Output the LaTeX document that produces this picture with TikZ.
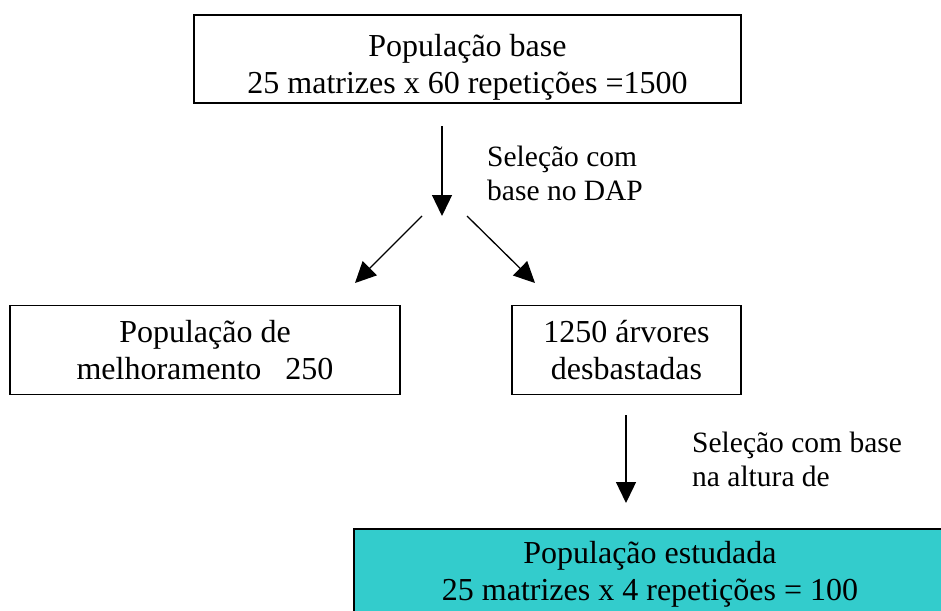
\documentclass[tikz,border=0pt]{standalone}
\usepackage{fontspec}
\setmainfont{Liberation Serif}
\usetikzlibrary{
	arrows.meta
}
\definecolor{estudada}{HTML}{33CCCC}

\begin{document}
\begin{tikzpicture}[
	x = 1pt, y = -1pt,
	font = \fontsize{32}{36.8}\selectfont,
	box/.style args = {#1 and #2}{
		rectangle, draw, line width=1.8pt,
		align=center,
		minimum width=#1, minimum height=#2
	},
	desce/.style = {
		execute at begin node={\rule{0pt}{75pt}}
	},
	nota/.style = {
		font=\fontsize{29.5}{34}\selectfont,
		align=left, inner sep=0pt, anchor=north west
	},
	seta/.style = {
		line width=1.3pt,
		-{Triangle[length=21pt,width=20pt]}
	}
]
	\useasboundingbox (0,0) rectangle (941,610);
	\node [box=547 and 88, desce] (base) at (467.5,59) {População base\\25 matrizes x 60 repetições =1500};
	\node [box=390 and 89] (melhor) at (205,350) {População de\\melhoramento \ \ 250};
	\node [box=229 and 89] (desbaste) at (626.5,350) {1250 árvores\\desbastadas};
	\node [box=640 and 120, fill=estudada, anchor=north west] (estudada) at (353,528) {};
	\node [align=center] (estudadatxt) at (650,574.5) {População estudada\\25 matrizes x 4 repetições = 100};
	% setas
	\coordinate (s1) at (442,126);
	\coordinate (s1f) at (442,216);
	\coordinate (s2) at (422,216);
	\coordinate (s2f) at (355,283);
	\coordinate (s3) at (467,216);
	\coordinate (s3f) at (535,283);
	\coordinate (s4) at (626,415);
	\coordinate (s4f) at (626,503);
	\draw [seta] (s1) -- (s1f);
	\draw [seta] (s2) -- (s2f);
	\draw [seta] (s3) -- (s3f);
	\draw [seta] (s4) -- (s4f);
	\node [nota] (selDAP) at (487,146) {Seleção com\\base no DAP};
	\node [nota] (selaltura) at (692,432) {Seleção com base\\na altura de};
\end{tikzpicture}
\end{document}
